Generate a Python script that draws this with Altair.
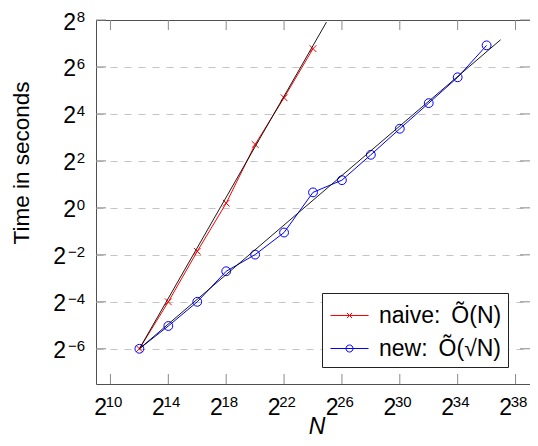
import altair as alt
import pandas as pd

FONT = "Liberation Sans"

# ---- data (all values are base-2 exponents) ----
naive_n = [12, 14, 16, 18, 20, 22, 24]
naive_t = [-6.0, -4.0, -1.85, 0.2, 2.7, 4.69, 6.78]
new_n = [12, 14, 16, 18, 20, 22, 24, 26, 28, 30, 32, 34, 36]
new_t = [-6.0, -5.03, -4.0, -2.7, -1.99, -1.05, 0.66, 1.18, 2.26, 3.37, 4.46, 5.56, 6.92]
fit_naive_n = [12, 24.93]
fit_naive_t = [-6.0, 7.91]
fit_new_n = [12, 36.97]
fit_new_t = [-6.0, 7.16]

x_ticks = [10, 14, 18, 22, 26, 30, 34, 38]
y_ticks = [-6, -4, -2, 0, 2, 4, 6, 8]
series_labels = ["naive:\u00a0\u2009Õ(N)", "new:\u00a0\u2009Õ(√N)\u2002\u2009"]
series_colors = ["red", "blue"]
x_title = "N"
y_title = "Time in seconds"

# ---- layout ----
X_MIN, X_MAX = 9, 39
Y_MIN, Y_MAX = -7.5, 8
W, H = 434, 364
PAD = {"left": 88, "top": 12, "right": 0, "bottom": 54}
TICK_PX = 10

xs = alt.Scale(domain=[X_MIN, X_MAX], nice=False, zero=False)
ys = alt.Scale(domain=[Y_MIN, Y_MAX], nice=False, zero=False)

def sup(v):
    return str(v).replace("-", "\u2212")

naive_df = pd.DataFrame({"n": naive_n, "t": naive_t})
new_df = pd.DataFrame({"n": new_n, "t": new_t})
fit_df = pd.DataFrame({
    "n": fit_naive_n + fit_new_n,
    "t": fit_naive_t + fit_new_t,
    "fit": ["naive"] * len(fit_naive_n) + ["new"] * len(fit_new_n),
})
xt_df = pd.DataFrame({"n": x_ticks, "lab": [sup(v) for v in x_ticks]})
yt_df = pd.DataFrame({"t": y_ticks, "lab": [sup(v) for v in y_ticks]})

dx_u = TICK_PX * (X_MAX - X_MIN) / W
dy_u = TICK_PX * (Y_MAX - Y_MIN) / H
vt_df = pd.DataFrame({
    "n": x_ticks + x_ticks,
    "t": [Y_MIN] * len(x_ticks) + [Y_MAX] * len(x_ticks),
    "t2": [Y_MIN + dy_u] * len(x_ticks) + [Y_MAX - dy_u] * len(x_ticks),
})
ht_df = pd.DataFrame({
    "t": y_ticks + y_ticks,
    "n": [X_MIN] * len(y_ticks) + [X_MAX] * len(y_ticks),
    "n2": [X_MIN + dx_u] * len(y_ticks) + [X_MAX - dx_u] * len(y_ticks),
})
legend_df = pd.DataFrame({"series": series_labels})

CROSS = "M-1,-1L1,1M-1,1L1,-1"
L = 1.19
CROSS_LINE = f"M-{L},0L{L},0M-0.16,-0.16L0.16,0.16M-0.16,0.16L0.16,-0.16"
CIRC_LINE = f"M-{L},0L{L},0M0.22,0A0.22,0.22 0 1,1 -0.22,0A0.22,0.22 0 1,1 0.22,0"

x_axis = alt.Axis(labels=False, ticks=False, domain=False, grid=False,
                  title=x_title, titleFont=FONT, titleFontSize=23,
                  titleFontStyle="italic", titleFontWeight="normal",
                  titleColor="black", titleX=220.5, titleY=49,
                  titleBaseline="alphabetic", titleAlign="center")
y_axis = alt.Axis(labels=False, ticks=False, domain=False, grid=True,
                  values=[v for v in y_ticks if v < Y_MAX],
                  gridColor="#c4c4c4", gridDash=[7, 7], gridWidth=1,
                  title=y_title, titleFont=FONT, titleFontSize=22.5,
                  titleFontWeight="normal", titleColor="black",
                  titleAngle=-90, titleX=-67.5, titleY=142.5,
                  titleBaseline="alphabetic", titleAlign="center")

XE = lambda f: alt.X(f, scale=xs, axis=x_axis)
YE = lambda f: alt.Y(f, scale=ys, axis=y_axis)

naive_line = alt.Chart(naive_df).mark_line(color="red", strokeWidth=1).encode(
    x=XE("n:Q"), y=YE("t:Q"))
naive_pts = alt.Chart(naive_df).mark_point(shape=CROSS, size=45, color="red",
                                           strokeWidth=1, opacity=1).encode(
    x=XE("n:Q"), y=YE("t:Q"))
new_line = alt.Chart(new_df).mark_line(color="blue", strokeWidth=1).encode(
    x=XE("n:Q"), y=YE("t:Q"))
new_pts = alt.Chart(new_df).mark_point(shape="circle", size=78, color="blue",
                                       filled=False, strokeWidth=1, opacity=1).encode(
    x=XE("n:Q"), y=YE("t:Q"))
fits = alt.Chart(fit_df).mark_line(color="black", strokeWidth=0.9).encode(
    x=XE("n:Q"), y=YE("t:Q"), detail="fit:N")

vticks = alt.Chart(vt_df).mark_rule(color="#8a8a8a", strokeWidth=1).encode(
    x=XE("n:Q"), y=YE("t:Q"), y2="t2:Q")
hticks = alt.Chart(ht_df).mark_rule(color="#8a8a8a", strokeWidth=1).encode(
    y=YE("t:Q"), x=XE("n:Q"), x2="n2:Q")

xl_base = alt.Chart(xt_df).mark_text(text="2", font=FONT, fontSize=23, color="black",
                                     align="right", baseline="alphabetic",
                                     dx=-3.5, dy=31).encode(
    x=XE("n:Q"), y=alt.value(H))
xl_exp = alt.Chart(xt_df).mark_text(font=FONT, fontSize=15, color="black",
                                    align="left", baseline="alphabetic",
                                    dx=-4.8, dy=22.7).encode(
    x=XE("n:Q"), y=alt.value(H), text="lab:N")
yl_base_pos = alt.Chart(yt_df).transform_filter("datum.t >= 0").mark_text(
    text="2", font=FONT, fontSize=23, color="black", align="right",
    baseline="alphabetic", dx=-20, dy=9.5).encode(
    y=YE("t:Q"), x=alt.value(0))
yl_base_neg = alt.Chart(yt_df).transform_filter("datum.t < 0").mark_text(
    text="2", font=FONT, fontSize=23, color="black", align="right",
    baseline="alphabetic", dx=-30, dy=9.5).encode(
    y=YE("t:Q"), x=alt.value(0))
yl_exp = alt.Chart(yt_df).mark_text(font=FONT, fontSize=15, color="black",
                                    align="right", baseline="alphabetic",
                                    dx=-11, dy=2).encode(
    y=YE("t:Q"), x=alt.value(0), text="lab:N")

leg = alt.Legend(title=None, orient="none", legendX=226, legendY=273,
                 fillColor="white", strokeColor="#222", padding=6,
                 rowPadding=4, symbolSize=1024, symbolOffset=5,
                 symbolStrokeWidth=1, symbolFillColor="transparent",
                 labelOffset=13, labelFont=FONT, labelFontSize=23,
                 labelColor="black", labelLimit=400)
legend_layer = alt.Chart(legend_df).transform_filter("false").mark_point(
    filled=False, strokeWidth=1, opacity=1).encode(
    color=alt.Color("series:N", scale=alt.Scale(domain=series_labels, range=series_colors), legend=leg),
    shape=alt.Shape("series:N", scale=alt.Scale(domain=series_labels, range=[CROSS_LINE, CIRC_LINE]), legend=leg),
)

chart = alt.layer(
    naive_line, new_line, naive_pts, new_pts, fits, vticks, hticks,
    xl_base, xl_exp, yl_base_pos, yl_base_neg, yl_exp, legend_layer,
).properties(
    width=W, height=H,
    autosize=alt.AutoSizeParams(type="none"),
    padding=PAD,
).configure_view(stroke="#505050", strokeWidth=1)

chart.save("out.html", embed_options={"renderer": "svg", "actions": False})
